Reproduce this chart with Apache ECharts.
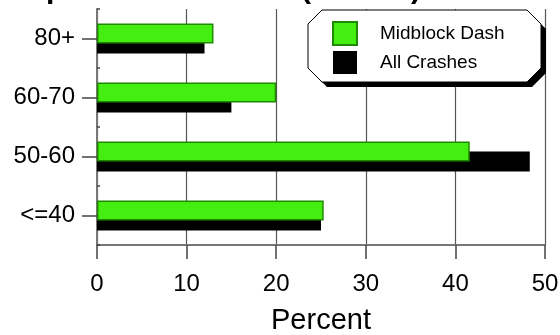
<!DOCTYPE html>
<html>
<head>
<meta charset="utf-8">
<script src="https://cdn.jsdelivr.net/npm/echarts@6/dist/echarts.min.js"></script>
<style>
html,body{margin:0;padding:0;background:#fff;}
#chart{width:560px;height:335px;}
</style>
</head>
<body>
<div id="chart"></div>
<script>
const categories = ['<=40', '50-60', '60-70', '80+'];
const midblockDash = [25.3, 41.6, 20, 13];
const allCrashes = [25, 48.3, 15, 12];
const xTicks = [0, 10, 20, 30, 40, 50];

const FONT = '"Liberation Sans", Arial, Helvetica, sans-serif';
const chart = echarts.init(document.getElementById('chart'), null, {renderer: 'canvas'});

function octagon(x0, y0, x1, y1, c) {
  return [[x0, y0 + c], [x0 + c, y0], [x1 - c, y0], [x1, y0 + c], [x1, y1 - c], [x1 - c, y1], [x0 + c, y1], [x0, y1 - c]];
}

const option = {
  animation: false,
  backgroundColor: '#fff',
  textStyle: {fontFamily: FONT},
  title: {
    text: 'Speed Limit Zones (Posted)',
    left: 26, top: -25, padding: 0,
    textStyle: {fontFamily: FONT, fontSize: 30, fontWeight: 'bold', color: '#000'}
  },
  grid: {left: 97, right: 15, top: 9, bottom: 90, containLabel: false, outerBoundsMode: 'none'},
  xAxis: {
    type: 'value', min: xTicks[0], max: xTicks[xTicks.length - 1], interval: 10,
    name: 'Percent', nameLocation: 'middle', nameGap: 61,
    nameTextStyle: {fontFamily: FONT, fontSize: 29, color: '#000'},
    axisLine: {show: true, lineStyle: {color: '#777', width: 2}},
    axisTick: {show: true, length: 14, lineStyle: {color: '#444', width: 1.5}},
    axisLabel: {fontFamily: FONT, fontSize: 24, color: '#000', margin: 27},
    splitLine: {show: true, lineStyle: {color: '#555', width: 1.2}}
  },
  yAxis: [{
    type: 'category', data: categories,
    axisLine: {show: true, lineStyle: {color: '#777', width: 2}},
    axisTick: {show: true, alignWithLabel: true, length: 15, lineStyle: {color: '#444', width: 1.5}},
    axisLabel: {fontFamily: FONT, fontSize: 24, color: '#000', margin: 22},
    splitLine: {show: false}
  }, {
    type: 'category', data: categories, position: 'left',
    axisLine: {show: false},
    axisTick: {show: true, inside: true, length: 3, lineStyle: {color: '#444', width: 1.5}},
    axisLabel: {show: false},
    splitLine: {show: false}
  }],
  legend: {
    orient: 'vertical', left: 332, top: 21, padding: 0,
    itemWidth: 24, itemHeight: 23, itemGap: 5, z: 20,
    icon: 'rect',
    data: ['Midblock Dash', 'All Crashes'],
    textStyle: {fontFamily: FONT, fontSize: 19, color: '#000', padding: [0, 0, 0, 18]}
  },
  graphic: [
    {type: 'polygon', z: 10, silent: true, shape: {points: octagon(313, 15, 546, 87, 14)}, style: {fill: '#000'}},
    {type: 'polygon', z: 11, silent: true, shape: {points: octagon(308, 10, 541, 82, 14)}, style: {fill: '#fff', stroke: '#000', lineWidth: 1}}
  ],
  series: [{
    name: 'Midblock Dash', type: 'bar', data: midblockDash,
    barWidth: 20, barGap: '-50%', z: 3,
    itemStyle: {color: '#44EE11', borderColor: '#1E8A00', borderWidth: 1.5}
  }, {
    name: 'All Crashes', type: 'bar', data: allCrashes,
    barWidth: 20, barGap: '-50%', z: 2,
    itemStyle: {color: '#000'}
  }]
};
chart.setOption(option);
</script>
</body>
</html>
